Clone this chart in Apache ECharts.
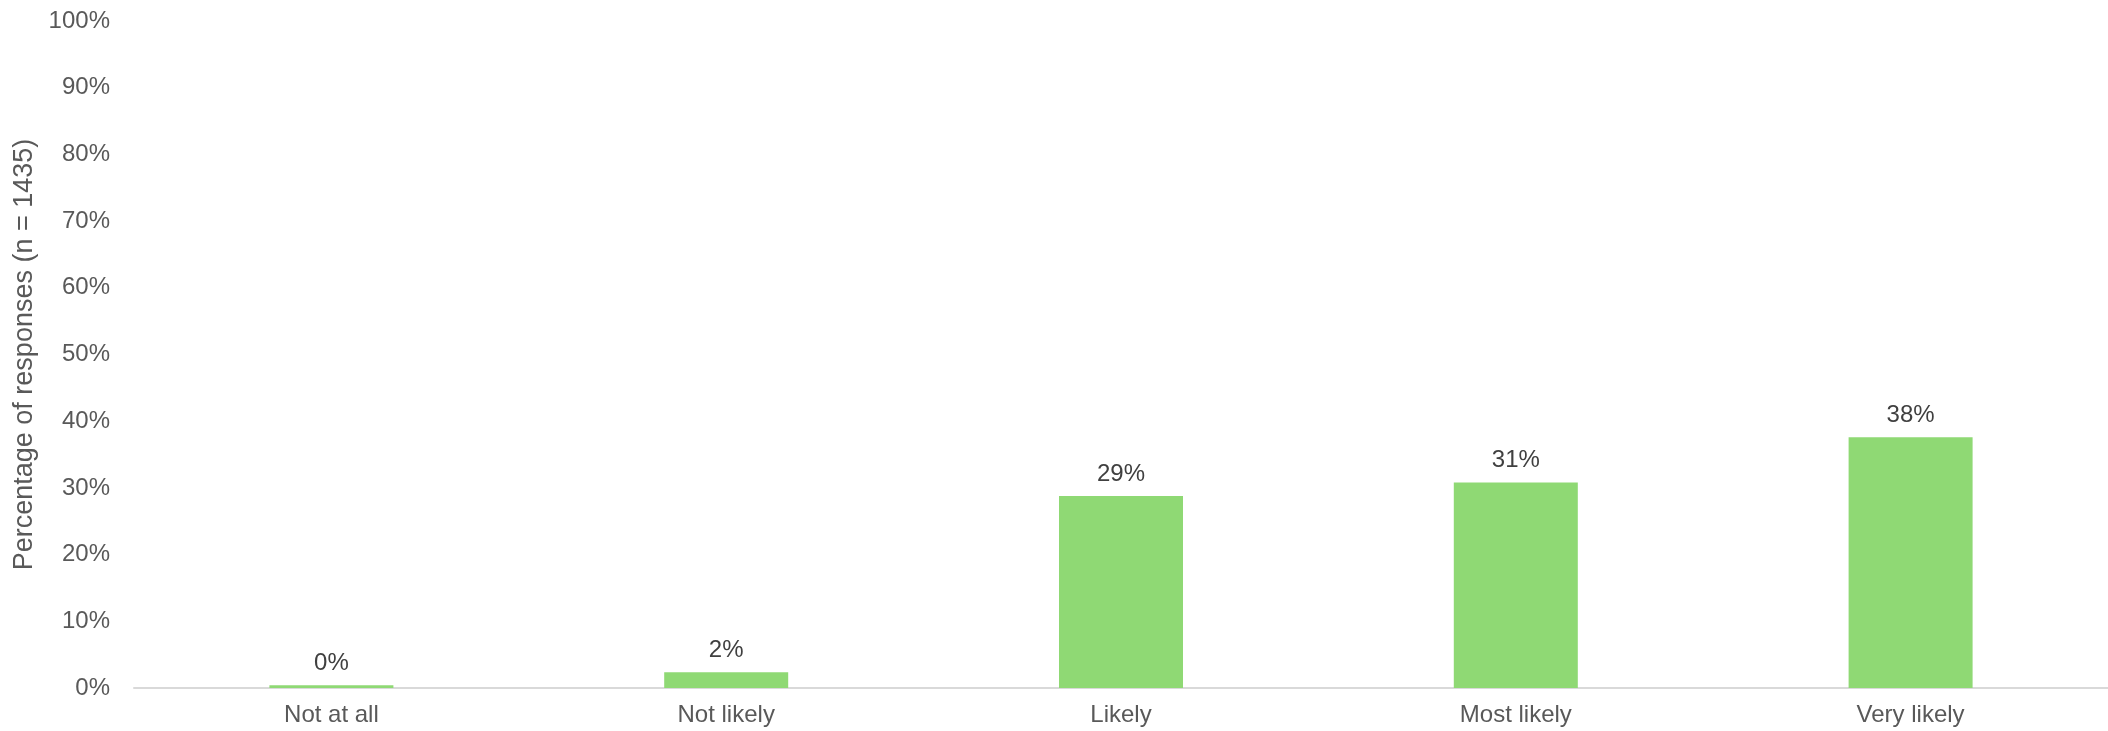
<!DOCTYPE html>
<html>
<head>
<meta charset="utf-8">
<script src="https://cdn.jsdelivr.net/npm/echarts@6/dist/echarts.min.js"></script>
<style>
  html, body { margin: 0; padding: 0; background: #fff; }
  #chart { width: 2108px; height: 731px; }
</style>
</head>
<body>
<div id="chart"></div>
<script>
// Survey responses by likelihood
const categories = ['Not at all', 'Not likely', 'Likely', 'Most likely', 'Very likely'];
const responsePct = [0.4, 2.35, 28.8, 30.8, 37.6];
const yTicks = [0, 10, 20, 30, 40, 50, 60, 70, 80, 90, 100];

const font = '"Liberation Sans", Arial, sans-serif';
const chart = echarts.init(document.getElementById('chart'), null, { renderer: 'canvas' });

chart.setOption({
  backgroundColor: '#ffffff',
  animation: false,
  grid: { left: 134, right: 0, top: 21, bottom: 43, containLabel: false },
  xAxis: {
    type: 'category',
    data: categories,
    axisLine: { show: true, lineStyle: { color: '#d9d9d9', width: 2 } },
    axisTick: { show: false },
    axisLabel: { color: '#595959', fontSize: 24, fontFamily: font, margin: 15 }
  },
  yAxis: {
    type: 'value',
    min: yTicks[0],
    max: yTicks[yTicks.length - 1],
    interval: yTicks[1] - yTicks[0],
    name: 'Percentage of responses (n = 1435)',
    nameLocation: 'middle',
    nameGap: 90,
    nameTextStyle: { color: '#595959', fontSize: 27, fontFamily: font },
    axisLine: { show: false },
    axisTick: { show: false },
    splitLine: { show: false },
    axisLabel: { color: '#595959', fontSize: 24, fontFamily: font, margin: 24, formatter: '{value}%' }
  },
  series: [{
    type: 'bar',
    data: responsePct,
    barWidth: 124,
    itemStyle: { color: '#8fd974' },
    label: {
      show: true,
      position: 'top',
      distance: 10,
      color: '#404040',
      fontSize: 24,
      fontFamily: font,
      formatter: p => Math.round(p.value) + '%'
    }
  }]
});
</script>
</body>
</html>
